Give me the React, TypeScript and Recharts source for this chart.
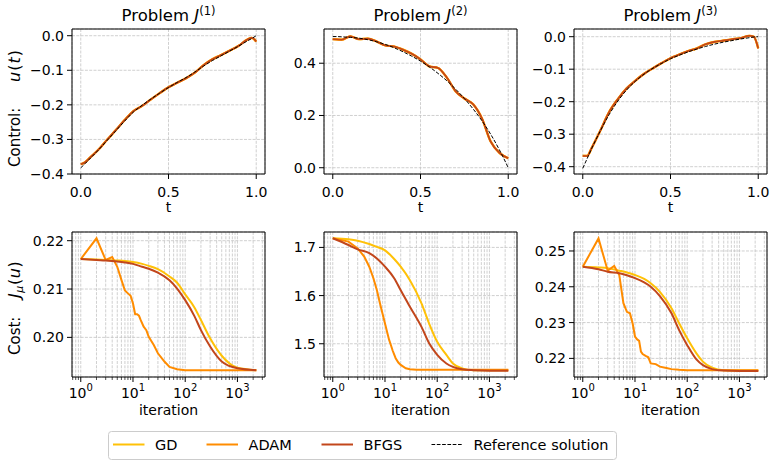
import React from "react";
import { LineChart, Line, XAxis, YAxis, CartesianGrid, ReferenceArea } from "recharts";

const FONT = "'DejaVu Sans', sans-serif";
const GD_COLOR = "#ffc107";
const ADAM_COLOR = "#ff8c00";
const BFGS_COLOR = "#c2461b";
const GRID = "#c4c4c4";

// control u(t) on a shared time grid
const T = [0, 0.025, 0.05, 0.1, 0.15, 0.2, 0.25, 0.3, 0.35, 0.4, 0.45, 0.5, 0.55, 0.6, 0.65, 0.7, 0.75, 0.8, 0.85, 0.9, 0.95, 0.975, 1];
const u1 = [-0.372, -0.366, -0.354, -0.33, -0.301, -0.273, -0.244, -0.218, -0.203, -0.184, -0.166, -0.149, -0.136, -0.123, -0.107, -0.085, -0.068, -0.056, -0.043, -0.029, -0.011, -0.006, -0.017];
const ref1 = [-0.382, -0.37, -0.357, -0.331, -0.303, -0.275, -0.247, -0.221, -0.201, -0.183, -0.166, -0.15, -0.135, -0.121, -0.105, -0.088, -0.072, -0.058, -0.044, -0.03, -0.015, -0.008, 0];
const u2 = [0.492, 0.491, 0.49, 0.503, 0.492, 0.494, 0.483, 0.468, 0.464, 0.452, 0.436, 0.415, 0.388, 0.382, 0.345, 0.293, 0.265, 0.243, 0.189, 0.1, 0.057, 0.045, 0.036];
const ref2 = [0.502, 0.502, 0.501, 0.499, 0.496, 0.49, 0.482, 0.472, 0.459, 0.444, 0.427, 0.408, 0.386, 0.361, 0.333, 0.301, 0.265, 0.225, 0.18, 0.128, 0.068, 0.035, 0];
const u3 = [-0.367, -0.367, -0.343, -0.289, -0.232, -0.192, -0.159, -0.135, -0.114, -0.097, -0.081, -0.066, -0.055, -0.044, -0.036, -0.023, -0.016, -0.012, -0.008, -0.004, 0.003, 0, -0.036];
const ref3 = [-0.405, -0.375, -0.345, -0.29, -0.24, -0.198, -0.164, -0.137, -0.115, -0.097, -0.082, -0.068, -0.057, -0.047, -0.038, -0.03, -0.023, -0.017, -0.012, -0.007, -0.003, -0.001, 0];

// cost J_mu(u) vs iteration
const IT = [1, 2, 3, 5, 7, 10, 15, 20, 30, 50, 70, 100, 150, 200, 300, 500, 1000, 2300];
const IT_ADAM = [1, 2, 3, 4, 5, 6, 7, 8, 9, 10, 11, 12, 13, 14, 16, 18, 20, 25, 30, 40, 50, 70, 100, 200, 500, 1000, 2300];
const gd1 = [0.2162, 0.2161, 0.216, 0.2159, 0.2158, 0.2156, 0.2152, 0.2148, 0.2141, 0.2126, 0.2113, 0.2089, 0.2062, 0.2036, 0.1998, 0.1962, 0.1937, 0.1932];
const bfgs1 = [0.2162, 0.216, 0.2159, 0.2157, 0.2155, 0.2152, 0.2146, 0.2142, 0.2134, 0.2118, 0.2101, 0.2077, 0.2044, 0.2015, 0.1981, 0.195, 0.1936, 0.1932];
const adam1 = [0.2162, 0.2205, 0.216, 0.2166, 0.2146, 0.2119, 0.2097, 0.2091, 0.2086, 0.207, 0.2048, 0.2048, 0.2045, 0.2036, 0.2022, 0.2015, 0.2001, 0.1984, 0.1967, 0.195, 0.1939, 0.1934, 0.1932, 0.1932, 0.1932, 0.1932, 0.1932];
const gd2 = [1.719, 1.717, 1.714, 1.707, 1.701, 1.694, 1.676, 1.66, 1.632, 1.584, 1.542, 1.504, 1.477, 1.459, 1.449, 1.445, 1.445, 1.445];
const bfgs2 = [1.719, 1.705, 1.696, 1.688, 1.677, 1.66, 1.636, 1.611, 1.577, 1.535, 1.501, 1.477, 1.459, 1.452, 1.447, 1.445, 1.444, 1.444];
const adam2 = [1.719, 1.712, 1.698, 1.681, 1.66, 1.636, 1.611, 1.584, 1.562, 1.542, 1.524, 1.508, 1.497, 1.486, 1.47, 1.461, 1.456, 1.449, 1.447, 1.446, 1.446, 1.446, 1.446, 1.446, 1.446, 1.446, 1.446];
const gd3 = [0.2456, 0.2454, 0.2452, 0.2445, 0.244, 0.2433, 0.2422, 0.241, 0.2386, 0.234, 0.2298, 0.2256, 0.2214, 0.2191, 0.2174, 0.2167, 0.2166, 0.2166];
const bfgs3 = [0.2456, 0.2449, 0.2442, 0.2438, 0.2432, 0.2424, 0.2412, 0.24, 0.2374, 0.2326, 0.2279, 0.2237, 0.2197, 0.2181, 0.217, 0.2166, 0.2165, 0.2165];
const adam3 = [0.2456, 0.2535, 0.2445, 0.2458, 0.2433, 0.2354, 0.233, 0.2326, 0.2298, 0.2261, 0.2253, 0.2249, 0.2219, 0.2212, 0.2207, 0.2203, 0.2186, 0.2184, 0.2177, 0.2173, 0.217, 0.2168, 0.2167, 0.2167, 0.2167, 0.2167, 0.2167];

// axes
const T_TICKS = [0, 0.5, 1];
const LOG_TICKS = [0.7, 0.8, 0.9, 1, 2, 3, 4, 5, 6, 7, 8, 9, 10, 20, 30, 40, 50, 60, 70, 80, 90, 100, 200, 300, 400, 500, 600, 700, 800, 900, 1000, 2000, 3000];
const X_T = [-0.05, 1.05];
const X_LOG = [0.679, 3373];
const U_TICKS_NEG = [-0.4, -0.3, -0.2, -0.1, 0];
const U_TICKS_POS = [0, 0.2, 0.4];

const PW = 193;
const PH = 145;
const AXIS_W = 70;
const AXIS_H = 50;
const PAD_T = 10;
const PAD_R = 10;
const COLS = [72, 324, 574];
const ROWS = [29, 232];

const rows = (xs: number[], ys: number[]) => xs.map((x, i) => ({ x, y: ys[i] }));
const fmt = (d: number) => (v: number) => v.toFixed(d).replace("-", "\u2212");

type Series = { name: string; data: { x: number; y: number }[]; color: string; width: number; dash?: string; curve: "monotone" | "linear" };

const controlSeries = (u: number[], ref: number[]): Series[] => [
  { name: "GD", data: rows(T, u), color: GD_COLOR, width: 2.2, curve: "monotone" },
  { name: "ADAM", data: rows(T, u), color: ADAM_COLOR, width: 2.2, curve: "monotone" },
  { name: "BFGS", data: rows(T, u), color: BFGS_COLOR, width: 1.6, curve: "monotone" },
  { name: "Reference solution", data: rows(T, ref), color: "#000", width: 1, dash: "3.7 1.6", curve: "monotone" },
];

const costSeries = (gd: number[], adam: number[], bfgs: number[]): Series[] => [
  { name: "GD", data: rows(IT, gd), color: GD_COLOR, width: 2, curve: "monotone" },
  { name: "ADAM", data: rows(IT_ADAM, adam), color: ADAM_COLOR, width: 2, curve: "linear" },
  { name: "BFGS", data: rows(IT, bfgs), color: BFGS_COLOR, width: 2, curve: "monotone" },
];

function LogTick(props: any) {
  const { x, y, payload } = props;
  const e = Math.log10(payload.value);
  const major = Math.abs(e - Math.round(e)) < 1e-6;
  return (
    <g>
      <line x1={x} x2={x} y1={y} y2={y + (major ? 5 : 3)} stroke="#000" strokeWidth={major ? 1 : 0.7} />
      {major && (
        <text x={x} y={y + 21} textAnchor="middle" fontSize={14} fontFamily={FONT} fill="#000">
          10<tspan dy={-7.5} fontSize={10}>{Math.round(e)}</tspan>
        </text>
      )}
    </g>
  );
}

type PanelProps = { left: number; top: number; log?: boolean; yDomain: number[]; yTicks: number[]; digits: number; series: Series[] };

function Panel({ left, top, log, yDomain, yTicks, digits, series }: PanelProps) {
  const xDomain = log ? X_LOG : X_T;
  const tickStyle = { fill: "#000", fontSize: 14, fontFamily: FONT };
  return (
    <div style={{ position: "absolute", left: left - AXIS_W, top: top - PAD_T }}>
      <LineChart width={PW + AXIS_W + PAD_R} height={PH + PAD_T + AXIS_H} margin={{ top: PAD_T, right: PAD_R, left: 0, bottom: 0 }}>
        <CartesianGrid stroke={GRID} strokeWidth={0.8} strokeDasharray="3 1.3" />
        {log ? (
          <XAxis type="number" dataKey="x" scale="log" domain={xDomain} ticks={LOG_TICKS} interval={0} allowDataOverflow
            height={AXIS_H} axisLine={false} tickLine={false} tickSize={0} tickMargin={0} tick={(p: any) => <LogTick {...p} />} />
        ) : (
          <XAxis type="number" dataKey="x" domain={xDomain} ticks={T_TICKS} interval={0} allowDataOverflow
            height={AXIS_H} axisLine={false} tickSize={5} tickMargin={8} tickLine={{ stroke: "#000" }}
            tick={tickStyle} tickFormatter={fmt(1)} />
        )}
        <YAxis type="number" domain={yDomain} ticks={yTicks} interval={0} allowDataOverflow width={AXIS_W}
          axisLine={false} tickSize={5} tickMargin={3} tickLine={{ stroke: "#000" }} tick={tickStyle} tickFormatter={fmt(digits)} />
        <ReferenceArea x1={xDomain[0]} x2={xDomain[1]} y1={yDomain[0]} y2={yDomain[1]} ifOverflow="visible"
          fill="none" fillOpacity={0} stroke="#000" strokeWidth={1} />
        {series.map((s) => (
          <Line key={s.name} data={s.data} dataKey="y" type={s.curve} stroke={s.color} strokeWidth={s.width}
            strokeDasharray={s.dash} dot={false} activeDot={false} isAnimationActive={false} />
        ))}
      </LineChart>
    </div>
  );
}

const LEGEND = [
  { label: "GD", color: GD_COLOR, x: 5 },
  { label: "ADAM", color: ADAM_COLOR, x: 98.5 },
  { label: "BFGS", color: BFGS_COLOR, x: 213.5 },
  { label: "Reference solution", color: "#000", x: 323.5, dash: "3.7 1.6", width: 1 },
];

function Overlay() {
  const cx = COLS.map((c) => c + PW / 2);
  return (
    <svg width={775} height={467} style={{ position: "absolute", left: 0, top: 0, pointerEvents: "none" }} fontFamily={FONT}>
      {[1, 2, 3].map((k, i) => (
        <text key={k} x={cx[i]} y={21} textAnchor="middle" fontSize={16.5} fill="#000">
          Problem <tspan fontStyle="italic">J</tspan>
          <tspan fontSize={11.5} dy={-6.5}>({k})</tspan>
        </text>
      ))}
      {cx.map((x, i) => (
        <g key={i}>
          <text x={x} y={ROWS[0] + PH + 38} textAnchor="middle" fontSize={14} fill="#000">t</text>
          <text x={x} y={ROWS[1] + PH + 38} textAnchor="middle" fontSize={14} fill="#000">iteration</text>
        </g>
      ))}
      <text transform="translate(20,167) rotate(-90)" fontSize={15} fill="#000">Control:</text>
      <text transform="translate(20,82) rotate(-90)" fontSize={16} fill="#000" letterSpacing={1}>
        <tspan fontStyle="italic">u</tspan>(<tspan fontStyle="italic">t</tspan>)
      </text>
      <text transform="translate(20,355) rotate(-90)" fontSize={15} fill="#000">Cost:</text>
      <text transform="translate(20,298) rotate(-90)" fontSize={16} fill="#000" letterSpacing={0.6}>
        <tspan fontStyle="italic">J</tspan>
        <tspan fontStyle="italic" fontSize={11} dy={3}>μ</tspan>
        <tspan dy={-3}>(</tspan>
        <tspan fontStyle="italic">u</tspan>)
      </text>
      <g transform="translate(108,431)">
        <rect x={0.5} y={0.5} width={508} height={28} rx={3} fill="#fff" stroke="#cccccc" />
        {LEGEND.map((l) => (
          <g key={l.label}>
            <line x1={l.x} x2={l.x + 31.5} y1={13.5} y2={13.5} stroke={l.color} strokeWidth={l.width || 2} strokeDasharray={l.dash} />
            <text x={l.x + 42} y={19} fontSize={14.5} fill="#000">{l.label}</text>
          </g>
        ))}
      </g>
    </svg>
  );
}

export default function App() {
  return (
    <div style={{ position: "absolute", left: 0, top: 0, width: 775, height: 467, background: "#fff" }}>
      <Panel left={COLS[0]} top={ROWS[0]} yDomain={[-0.4, 0.0194]} yTicks={U_TICKS_NEG} digits={1} series={controlSeries(u1, ref1)} />
      <Panel left={COLS[1]} top={ROWS[0]} yDomain={[-0.024, 0.531]} yTicks={U_TICKS_POS} digits={1} series={controlSeries(u2, ref2)} />
      <Panel left={COLS[2]} top={ROWS[0]} yDomain={[-0.4225, 0.0237]} yTicks={U_TICKS_NEG} digits={1} series={controlSeries(u3, ref3)} />
      <Panel left={COLS[0]} top={ROWS[1]} log yDomain={[0.1918, 0.2218]} yTicks={[0.2, 0.21, 0.22]} digits={2} series={costSeries(gd1, adam1, bfgs1)} />
      <Panel left={COLS[1]} top={ROWS[1]} log yDomain={[1.431, 1.732]} yTicks={[1.5, 1.6, 1.7]} digits={1} series={costSeries(gd2, adam2, bfgs2)} />
      <Panel left={COLS[2]} top={ROWS[1]} log yDomain={[0.2148, 0.2553]} yTicks={[0.22, 0.23, 0.24, 0.25]} digits={2} series={costSeries(gd3, adam3, bfgs3)} />
      <Overlay />
    </div>
  );
}
